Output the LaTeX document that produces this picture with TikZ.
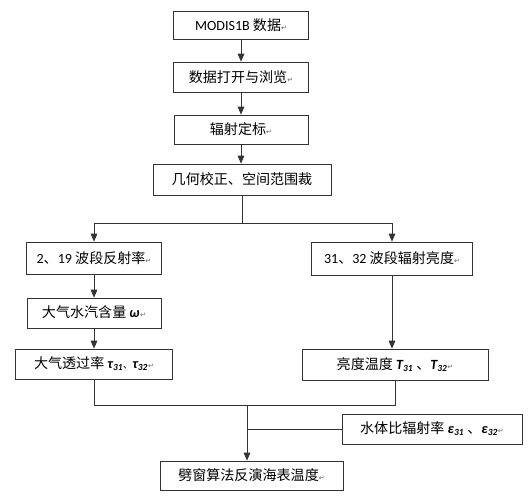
\documentclass[tikz,border=0pt]{standalone}
\usepackage{fontspec}
\setmainfont{Noto Sans CJK SC}
\newfontfamily\lat{Carlito}
\newfontfamily\sym{DejaVu Sans}
\usetikzlibrary{arrows.meta,positioning}

\newcommand{\pmark}{{\sym\fontsize{6}{6}\selectfont\color{black!60}↵}}
\newcommand{\bvar}[2]{{\lat\bfseries\itshape #1\textsubscript{#2}}}

\tikzset{
  box/.style={draw=black!80, line width=0.6pt, inner sep=2pt, font=\fontsize{12}{14}\selectfont},
  arr/.style={-{Triangle[length=2.4mm,width=2mm]}, draw=black!80, line width=0.6pt},
  lin/.style={draw=black!80, line width=0.6pt}
}

\begin{document}
\begin{tikzpicture}[x=0.03cm, y=-0.03cm]
        \useasboundingbox (0,0) rectangle (530,500);

        % Catena principale
        \node[box, minimum width=4.05cm, minimum height=0.84cm] (modis) at (241,25) {{\lat MODIS1B} 数据\pmark};
        \node[box, minimum width=4.05cm, minimum height=0.9cm] (apri) at (241,77) {数据打开与浏览\pmark};
        \node[box, minimum width=4.02cm, minimum height=0.87cm] (calib) at (241,129.5) {辐射定标\pmark};
        \node[box, minimum width=5.34cm, minimum height=0.93cm] (geom) at (242,179.5) {几何校正、空间范围裁};

        % Ramo sinistro
        \node[box, minimum width=4.05cm, minimum height=0.96cm] (rifl) at (94,258) {{\lat 2}、{\lat 19} 波段反射率\pmark};
        \node[box, minimum width=4.02cm, minimum height=0.9cm] (vap) at (94,313) {大气水汽含量 \bvar{ω}{}\pmark};
        \node[box, minimum width=4.71cm, minimum height=0.9cm] (trasm) at (94,364) {大气透过率 \bvar{τ}{31}{\fontsize{8}{8}\selectfont 、}\bvar{τ}{32}\pmark};

        % Ramo destro
        \node[box, minimum width=4.83cm, minimum height=0.99cm] (rad) at (392,258.5) {{\lat 31}、{\lat 32} 波段辐射亮度\pmark};
        \node[box, minimum width=5.58cm, minimum height=0.93cm] (temp) at (395,364.5) {亮度温度 \bvar{T}{31} 、\bvar{T}{32}\pmark};

        % Risultato
        \node[box, minimum width=5.4cm, minimum height=0.9cm] (emis) at (432,429) {水体比辐射率 \bvar{ε}{31} 、\bvar{ε}{32}\pmark};
        \node[box, minimum width=5.49cm, minimum height=0.87cm] (sst) at (251.5,475.5) {劈窗算法反演海表温度\pmark};

        \coordinate (fork) at (242,223);
        \coordinate (join) at (247,405);

        % Frecce
        \draw[arr] (modis) -- (apri);
        \draw[arr] (apri) -- (calib);
        \draw[arr] (calib.south) -- (calib.south |- geom.north);
        \draw[lin] (geom) -- (fork);
        \draw[arr] (fork) -| (rifl);
        \draw[arr] (fork) -| (rad);
        \draw[arr] (rifl) -- (vap);
        \draw[arr] (vap) -- (trasm);
        \draw[arr] (rad.south) -- (rad.south |- temp.north);
        \draw[lin] (trasm.south) |- (join);
        \draw[lin] (temp.south) |- (join);
        \draw[lin] (emis.west) -- (emis.west -| join);
        \draw[arr] (join) -- (join |- sst.north);
\end{tikzpicture}
\end{document}
